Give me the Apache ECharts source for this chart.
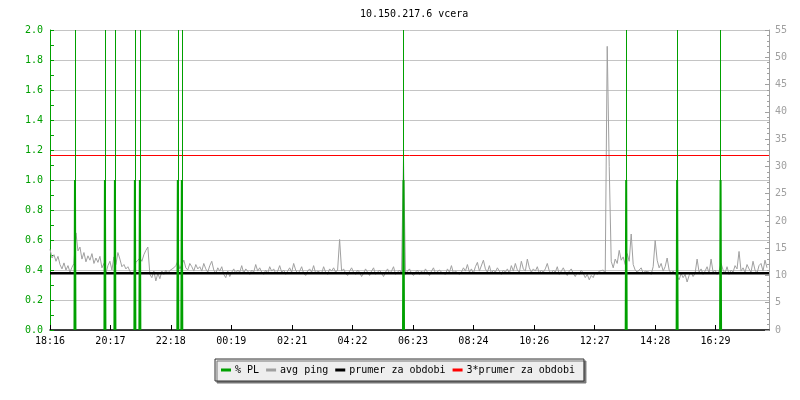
<!DOCTYPE html>
<html><head><meta charset="utf-8">
<script src="https://cdn.jsdelivr.net/npm/echarts@6/dist/echarts.min.js"></script>
<style>html,body{margin:0;padding:0;background:#fff}#c{width:800px;height:400px}</style>
</head><body><div id="c"></div>
<script>
const chartTitle = '10.150.217.6 vcera';
const seriesNames = ['% PL', 'avg ping', 'prumer za obdobi', '3*prumer za obdobi'];
const tickLabels = ['18:16','20:17','22:18','00:19','02:21','04:22','06:23','08:24','10:26','12:27','14:28','16:29'];
const startTime = '18:16';
const spanMinutes = 1440;
const sampleStep = 4; // minutes between avg ping samples

// avg ping (ms), one sample every 4 minutes from 18:16
const pingValues = [
  14.8, 13.2, 13.8, 12.6, 13.5, 12.0, 11.2, 12.3, 11.0, 11.8, 10.6, 11.5, 12.2,
  17.8, 14.5, 15.2, 13.0, 14.2, 12.5, 13.6, 12.8, 14.0, 12.2, 13.2, 12.4, 13.5,
  11.4, 12.2, 10.4, 11.8, 12.6, 11.0, 13.4, 12.0, 14.2, 13.0, 11.6, 12.0,
  11.2, 11.6, 10.8, 10.2, 10.6, 12.4, 12.8, 13.2, 12.6, 13.8, 14.6, 15.2,
  10.2, 9.6, 10.8, 9.0, 10.4, 9.4, 10.8, 10.2, 11.0, 10.4, 10.9, 10.6,
  11.4, 11.8, 12.6, 11.2, 12.0, 12.8, 11.4, 11.0, 12.2, 11.6, 10.8, 12.0, 11.2,
  11.6, 10.8, 12.2, 11.2, 10.6, 11.8, 12.6, 11.0, 10.4, 11.4,
  10.8, 11.6, 10.2, 9.6, 10.8, 9.8, 10.6, 11.2, 10.4, 11.0,
  10.6, 11.8, 10.4, 11.2, 10.8, 10.2, 11.0, 10.6, 12.0, 10.8,
  11.4, 10.6, 10.2, 11.0, 10.4, 11.6, 10.8, 11.2, 10.4, 10.8,
  11.8, 10.6, 11.0, 10.2, 10.8, 11.4, 10.6, 12.2, 11.0, 10.4,
  10.8, 11.6, 10.4, 10.0, 10.8, 11.2, 10.6, 11.8, 10.4, 10.8,
  11.0, 10.4, 11.6, 10.6, 10.2, 11.2, 10.8, 11.4, 10.6, 11.0,
  16.6,
  10.8, 11.2, 10.4, 10.0, 10.8, 11.4, 10.6, 10.2, 11.0, 10.6,
  9.8, 10.4, 11.2, 10.6, 10.0, 10.8, 11.4, 10.2, 10.6, 11.0,
  10.4, 9.8, 10.6, 11.2, 10.4, 10.8, 11.6, 10.2, 10.6, 11.0,
  10.4,
  31.5,
  10.2, 10.8, 11.2, 10.4, 10.0, 10.6, 11.0, 10.2, 10.8, 10.4,
  11.2, 10.6, 10.0, 10.8, 11.4, 10.4, 10.2, 11.0, 10.6, 10.8,
  10.2, 11.2, 10.6, 11.8, 10.4, 10.8, 11.0, 10.2, 10.6, 11.4,
  10.8, 12.0, 10.6, 11.2, 10.4, 11.6, 12.4, 10.8, 11.0, 12.8,
  11.2, 10.6, 11.8, 10.4, 11.0, 10.6, 11.4, 10.8, 10.2, 11.0,
  10.6, 11.2, 10.4, 11.8, 10.8, 12.2, 11.0, 10.6, 12.6, 11.2,
  10.8, 13.0, 11.4, 10.6, 11.2, 10.8, 11.6, 10.4, 11.0, 10.6,
  11.2, 12.2, 10.8, 10.4, 11.0, 10.6, 11.6, 10.2, 10.8, 11.4,
  10.6, 10.0, 10.8, 11.2, 10.4, 9.8, 10.6, 10.2, 11.0, 10.4,
  9.6, 10.2, 9.2, 10.0, 9.6, 10.6, 10.2, 10.8,
  10.6, 11.0, 10.4,
  52.0, 30.0,
  12.6, 11.4, 13.0, 12.2, 14.6, 12.8, 13.4, 12.0, 14.0, 12.6,
  17.6,
  12.0, 11.0, 10.6, 10.8, 11.4, 10.4, 10.8, 11.0, 10.6, 10.2,
  11.6, 16.4, 12.8,
  11.4, 12.2, 10.8, 11.6, 13.2, 11.0, 10.4, 10.8, 10.2, 9.8,
  9.2, 10.4, 9.6, 10.2, 8.8, 10.0, 10.6, 9.8, 10.4, 13.0,
  10.6, 11.2, 10.2, 10.8, 11.6, 10.4, 13.0, 10.6, 11.0, 10.2,
  10.8, 12.2, 11.0, 10.4, 11.6, 10.2, 11.0, 10.6, 11.8, 11.2,
  14.4, 10.8, 11.4, 10.6, 12.0, 11.2, 10.6, 12.6, 11.0, 10.4, 11.8, 12.2, 10.8, 12.8, 11.4
];

// packet loss spikes: minutes after 18:16 and value (%)
const plSpikeMinutes = [50, 110, 130, 170, 180, 256, 264, 708, 1154, 1256, 1343];
const plSpikeValues  = [1, 1, 1, 1, 1, 1, 1, 1, 1, 1, 1];

const avgPing = 10.4;   // prumer za obdobi (ms)
const tripleAvg = 31.99; // 3*prumer za obdobi (ms)

const FONT = "'DejaVu Sans Mono', monospace";
const GREEN = '#00a000';
const GREY = '#a0a0a0';

function toMin(s) { const p = s.split(':'); return (+p[0]) * 60 + (+p[1]); }
const startMin = toMin(startTime);
const tickMinutes = tickLabels.map(l => ((toMin(l) - startMin) % 1440 + 1440) % 1440);
function labelFor(v) {
  const i = tickMinutes.indexOf(v);
  return i >= 0 ? tickLabels[i] : '';
}

const plData = [];
plSpikeMinutes.forEach((t, k) => {
  plData.push([t - 1, 0], [t, plSpikeValues[k]], [t + 1, 0], [t + 1, '-']);
});
const pingData = pingValues.map((v, i) => [i * sampleStep, v]);

const chart = echarts.init(document.getElementById('c'), null, { renderer: 'canvas' });
chart.setOption({
  animation: false,
  backgroundColor: '#ffffff',
  title: {
    text: chartTitle, left: 355, top: 4,
    textStyle: { fontFamily: FONT, fontSize: 10, fontWeight: 'normal', color: '#000' }
  },
  grid: { left: 50, right: 31, top: 30, bottom: 70, containLabel: false },
  legend: {
    data: seriesNames, left: 215, top: 359, icon: 'rect', itemWidth: 10, itemHeight: 3,
    itemGap: 7, padding: [6, 9, 6, 6], selectedMode: false,
    backgroundColor: '#eeeeee', borderColor: '#333', borderWidth: 1,
    shadowColor: '#777', shadowOffsetX: 2, shadowOffsetY: 2, shadowBlur: 0,
    textStyle: { fontFamily: FONT, fontSize: 10, color: '#000', padding: [0, 0, 0, -1] }
  },
  xAxis: {
    type: 'value', min: 0, max: spanMinutes,
    axisLine: { show: true, lineStyle: { color: '#000', width: 1.5 } },
    axisTick: { show: true, inside: true, length: 5, lineStyle: { color: '#000' }, customValues: tickMinutes },
    axisLabel: { customValues: tickMinutes, formatter: labelFor, color: '#000', fontFamily: FONT, fontSize: 10, margin: 6 },
    splitLine: { show: false }
  },
  yAxis: [
    {
      type: 'value', min: 0, max: 2, interval: 0.2, position: 'left',
      axisLine: { show: true, lineStyle: { color: GREEN } },
      axisTick: { show: true, inside: true, length: 4, lineStyle: { color: GREEN } },
      minorTick: { show: true, splitNumber: 2, length: 4, lineStyle: { color: GREEN } },
      axisLabel: { color: GREEN, formatter: v => v.toFixed(1), margin: 7, fontFamily: FONT, fontSize: 10 },
      splitLine: { show: true, lineStyle: { color: '#c4c4c4' } }
    },
    {
      type: 'value', min: 0, max: 55, interval: 5, position: 'right',
      axisLine: { show: true, lineStyle: { color: GREY } },
      axisTick: { show: true, inside: true, length: 4, lineStyle: { color: GREY } },
      minorTick: { show: true, splitNumber: 5, length: 2, lineStyle: { color: GREY } },
      axisLabel: { color: GREY, margin: 6, fontFamily: FONT, fontSize: 10 },
      splitLine: { show: false }
    }
  ],
  series: [
    {
      name: seriesNames[0], type: 'line', yAxisIndex: 0, data: plData,
      symbol: 'none', connectNulls: false, z: 5,
      lineStyle: { color: GREEN, width: 2 }, itemStyle: { color: GREEN },
      emphasis: { disabled: true },
      markLine: {
        silent: true, symbol: ['none', 'none'], label: { show: false },
        lineStyle: { color: GREEN, width: 1, type: 'solid' },
        emphasis: { disabled: true },
        data: plSpikeMinutes.map(t => ({ xAxis: t }))
      }
    },
    {
      name: seriesNames[1], type: 'line', yAxisIndex: 1, data: pingData,
      symbol: 'none', z: 2,
      lineStyle: { color: GREY, width: 1 }, itemStyle: { color: GREY },
      emphasis: { disabled: true }
    },
    {
      name: seriesNames[2], type: 'line', yAxisIndex: 1,
      data: [[0, avgPing], [spanMinutes, avgPing]],
      symbol: 'none', z: 3,
      lineStyle: { color: '#000', width: 2.5 }, itemStyle: { color: '#000' },
      emphasis: { disabled: true }
    },
    {
      name: seriesNames[3], type: 'line', yAxisIndex: 1,
      data: [[0, tripleAvg], [spanMinutes, tripleAvg]],
      symbol: 'none', z: 4,
      lineStyle: { color: '#ff0000', width: 1 }, itemStyle: { color: '#ff0000' },
      emphasis: { disabled: true }
    }
  ]
});
</script>
</body></html>
